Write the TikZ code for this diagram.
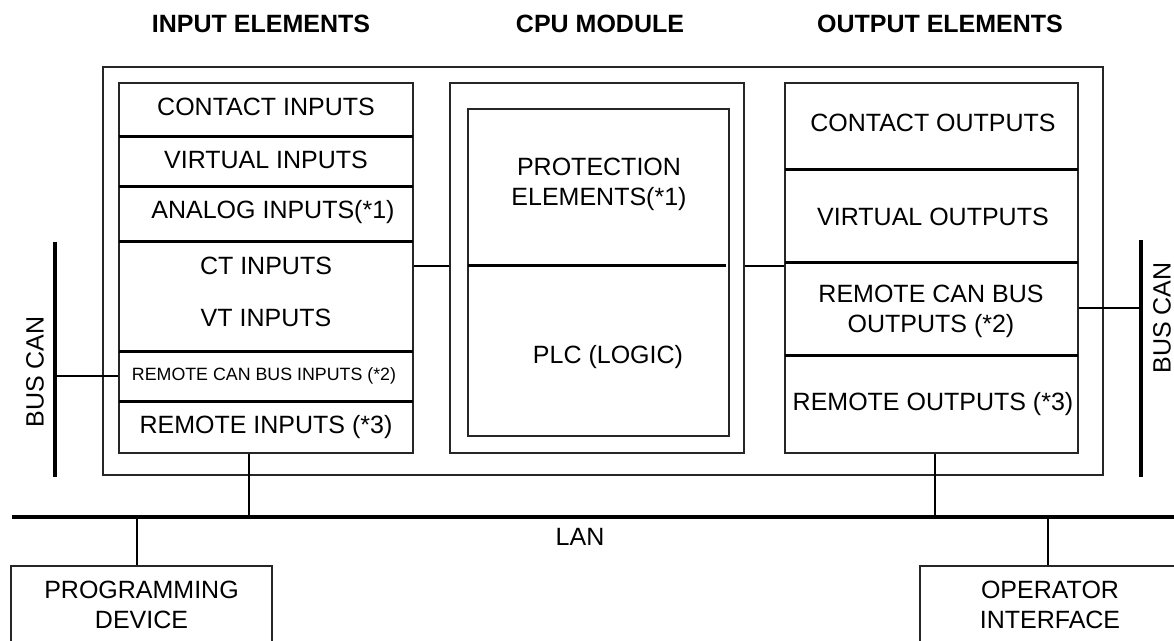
\documentclass[tikz,border=0pt]{standalone}
\usepackage{fontspec}
\setmainfont{Liberation Sans}
\usepackage{tikz}
\usetikzlibrary{calc,positioning,fit}
\tikzset{
  frame/.style={draw=black!85,line width=1pt,inner sep=0pt},
  divider/.style={line width=1.5pt},
  link/.style={line width=1.3pt},
  bus/.style={line width=1.8pt},
  lan/.style={line width=2pt},
  lbl/.style={font=\fontsize{12.5}{15}\selectfont,align=center,inner sep=0pt},
  tiny/.style={font=\fontsize{8.9}{10}\selectfont,inner sep=0pt},
  head/.style={font=\fontsize{12.5}{15}\selectfont\bfseries,inner sep=0pt},
  devbox/.style={frame,lbl,anchor=north,minimum width=130.5pt,minimum height=39pt}
}

\begin{document}
\begin{tikzpicture}[x=0.5pt,y=-0.5pt]
  \useasboundingbox (0,0) rectangle (1174,641);
  \clip (0,0) rectangle (1174,641);
  % headings
  \node[head] (hin)  at (261,24) {INPUT ELEMENTS};
  \node[head] (hcpu) at (600,24) {CPU MODULE};
  \node[head] (hout) at (940,24) {OUTPUT ELEMENTS};
  % relay frame and the three blocks
  \node[frame,fit={(103,67)(1103,475)}] (relay) {};
  \node[frame,fit={(119,83)(413,453)}] (inbox) {};
  \node[frame,fit={(450,83)(744,453)}] (cpu) {};
  \node[frame,fit={(468,109)(729,436)}] (cpuin) {};
  \node[frame,fit={(785,83)(1078,453)}] (outbox) {};
  % input rows
  \foreach \y in {137,187,242,352,402}{
    \draw[divider] (119,\y) -- (413,\y);
  }
  \node[lbl]  (ci)  at (266,107) {CONTACT INPUTS};
  \node[lbl]  (vi)  at (266,160) {VIRTUAL INPUTS};
  \node[lbl]  (ai)  at (273,212) {ANALOG INPUTS(*1)};
  \node[lbl]  (cti) at (266,266) {CT INPUTS};
  \node[lbl]  (vti) at (266,318) {VT INPUTS};
  \node[tiny] (rci) at (264,376) {REMOTE CAN BUS INPUTS (*2)};
  \node[lbl]  (ri)  at (266,427) {REMOTE INPUTS (*3)};
  % cpu
  \draw[divider] (468,266) -- (726,266);
  \node[lbl] (prot) at (599,184) {PROTECTION\\ELEMENTS(*1)};
  \node[lbl] (plc)  at (608,357) {PLC (LOGIC)};
  % output rows
  \foreach \y in {170,263,356}{
    \draw[divider] (785,\y) -- (1078,\y);
  }
  \node[lbl] (co)  at (933,123) {CONTACT OUTPUTS};
  \node[lbl] (vo)  at (933,217) {VIRTUAL OUTPUTS};
  \node[lbl] (rco) at (931,311) {REMOTE CAN BUS\\OUTPUTS (*2)};
  \node[lbl] (ro)  at (933,404) {REMOTE OUTPUTS (*3)};
  % block links
  \draw[link] (inbox.east |- cti) -- (cpu.west |- cti);
  \draw[link] (cpu.east |- cti) -- (outbox.west |- cti);
  % bus can, both sides
  \coordinate (canLtop) at (55,242);
  \coordinate (canLbot) at (55,477);
  \coordinate (canRtop) at (1141,240);
  \coordinate (canRbot) at (1141,477);
  \draw[bus] (canLtop) -- (canLbot);
  \draw[bus] (canRtop) -- (canRbot);
  \draw[link] (inbox.west |- rci) -- (canLtop |- rci);
  \draw[link] (outbox.east |- 0,308) -- (canRtop |- 0,308);
  \node[lbl,rotate=90] (canL) at (35,372) {BUS CAN};
  \node[lbl,rotate=90] (canR) at (1162,318) {BUS CAN};
  % lan
  \coordinate (lanL) at (12,517);
  \coordinate (lanR) at (1174,517);
  \draw[lan] (lanL) -- (lanR);
  \node[lbl] (lanlbl) at (580,537) {LAN};
  \coordinate (tapin) at (249,517);
  \coordinate (tapout) at (935,517);
  \draw[line width=1pt] (inbox.south -| tapin) -- (tapin);
  \draw[link] (outbox.south -| tapout) -- (tapout);
  % devices on the lan
  \node[devbox] (progdev) at (141.5,565) {PROGRAMMING\\DEVICE};
  \node[devbox] (opif) at (1050,565) {OPERATOR\\INTERFACE};
  \coordinate (tapprog) at (137,517);
  \draw[link] (tapprog) -- (tapprog |- progdev.north);
  \draw[link] (opif.north -| 1048,0) -- (lanR -| 1048,0);
\end{tikzpicture}
\end{document}
